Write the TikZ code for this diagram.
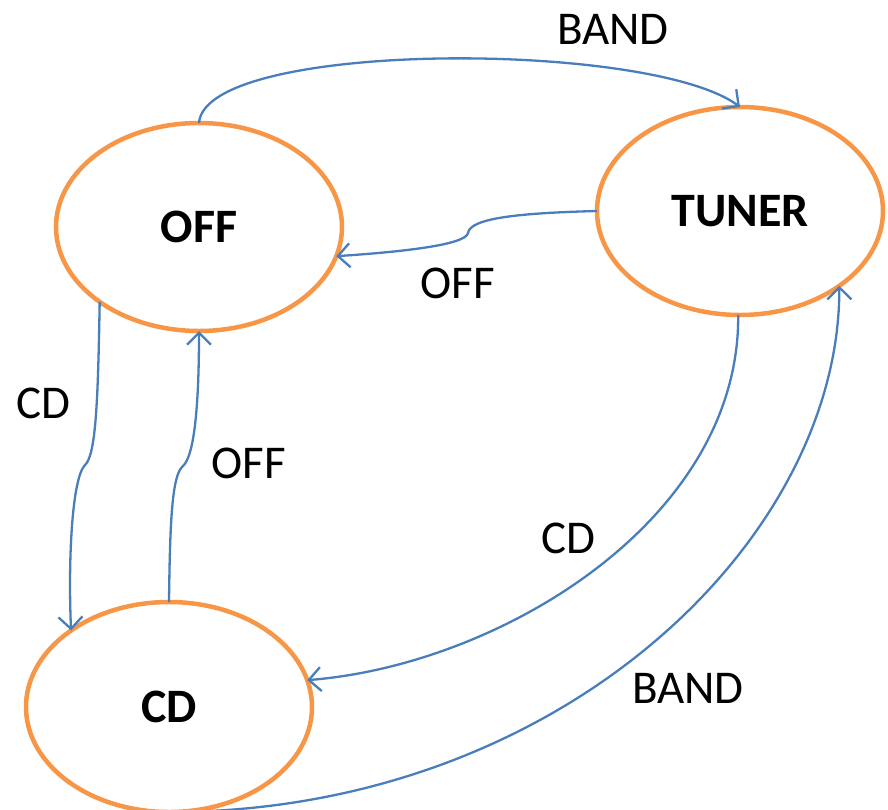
\documentclass[tikz,border=0pt]{standalone}
\usepackage{fontspec}
\setmainfont{Carlito}
\usetikzlibrary{arrows.meta,shapes.geometric}
\definecolor{borange}{HTML}{F79646}
\definecolor{bblue}{HTML}{4A7EBB}
\begin{document}
\begin{tikzpicture}[x=1pt,y=-1pt,
  state/.style={ellipse,draw=borange,line width=4.5pt,minimum width=286pt,minimum height=208pt,inner sep=0pt,outer sep=0pt,font=\fontsize{48}{54}\selectfont\bfseries},
  conn/.style={draw=bblue,line width=2.3pt,-{Straight Barb[length=12pt,width=24pt,line width=2.3pt]}},
  lbl/.style={anchor=base,font=\fontsize{47}{54}\selectfont,inner sep=0pt}]
\useasboundingbox (0,0) rectangle (888,809);
\node[state] (off) at (199,227) {OFF};
\node[state] (tuner) at (740,211) {TUNER};
\node[state,minimum height=210pt] (cd) at (169,707) {CD};
% OFF -> TUNER (BAND)
\draw[conn] (off.north) .. controls (205,40) and (650,40) .. (tuner.north);
% TUNER -> OFF (OFF)
\draw[conn] (tuner.west) .. controls (520,213) and (470,218) .. (468,233) .. controls (466,245) and (400,252) .. (off.-12);
% OFF -> CD (CD)
\draw[conn] (off.-143.4) .. controls (98,400) and (96,455) .. (85,465) .. controls (72,478) and (68,560) .. (cd.142.7);
% CD -> OFF (OFF)
\draw[conn] (cd.north) .. controls (170,520) and (172,475) .. (183,466) .. controls (195,455) and (199,400) .. (off.south);
% TUNER -> CD (CD)
\draw[conn] (tuner.-91) .. controls (740,520) and (500,665) .. (cd.11.2);
% CD -> TUNER (BAND)
\draw[conn] (cd.south) .. controls (560,812) and (840,540) .. (tuner.-37.6);
\node[lbl] (l1) at (613,44) {BAND};
\node[lbl] (l2) at (458,298) {OFF};
\node[lbl] (l3) at (43,418) {CD};
\node[lbl] (l4) at (249,478) {OFF};
\node[lbl] (l5) at (568,553) {CD};
\node[lbl] (l6) at (688,703) {BAND};
\end{tikzpicture}
\end{document}
